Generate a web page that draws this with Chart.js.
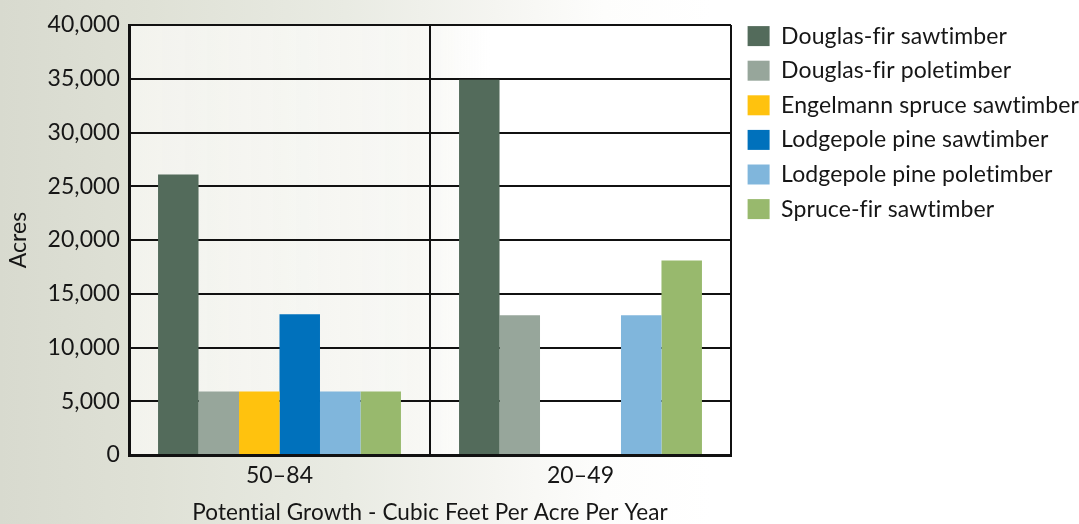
<!DOCTYPE html>
<html>
<head>
<meta charset="utf-8">
<script src="https://cdn.jsdelivr.net/npm/chart.js@4/dist/chart.umd.min.js"></script>
<style>
html, body { margin: 0; padding: 0; }
body {
    width: 1079px; height: 524px; overflow: hidden;
    background: linear-gradient(90deg, #d8dacf 0%, #dfe1d6 14%, #e9ebe3 32%, #f5f5f1 46%, #fdfdfc 56%, #ffffff 66%);
}
canvas { display: block; font-variant-ligatures: none; }
</style>
</head>
<body>
<canvas id="chart1" width="1079" height="524"></canvas>
<script>
const categories = ['50–84', '20–49'];

const dfSaw  = [26100, 34900];
const dfPole = [5900, 13000];
const esSaw  = [5900, 0];
const lpSaw  = [13100, 0];
const lpPole = [5900, 13000];
const sfSaw  = [5900, 18100];

const seriesNames = [
    'Douglas-fir sawtimber',
    'Douglas-fir poletimber',
    'Engelmann spruce sawtimber',
    'Lodgepole pine sawtimber',
    'Lodgepole pine poletimber',
    'Spruce-fir sawtimber'
];
const seriesColors = ['#536b5b', '#97a69b', '#ffc20e', '#0071bc', '#80b6dc', '#98b96d'];

const yTicks = [0, 5000, 10000, 15000, 20000, 25000, 30000, 35000, 40000];
const yTitle = 'Acres';
const xTitle = 'Potential Growth - Cubic Feet Per Acre Per Year';

Chart.defaults.font.family = 'Lato';
Chart.defaults.font.size = 23;
Chart.defaults.color = '#161616';

const ch1 = document.getElementById('chart1');

// legend width fixed and nudged to sit where the original has it
const layoutFix = {
    id: 'layoutFix',
    afterInit(chart) {
        const lg = chart.legend;
        const fit = lg.fit.bind(lg);
        lg.fit = function () { fit(); this.width = 348; };
    },
    afterLayout(chart) {
        const lg = chart.legend;
        lg.left += 5;
        lg.right += 5;
        lg.top = 13;
    },
    beforeDraw(chart) {
        const a = chart.chartArea;
        const ctx = chart.ctx;
        ctx.letterSpacing = '0.1px'; // keeps Lato from joining "ti" / "fi"
        const g = ctx.createLinearGradient(a.left, 0, a.right, 0);
        g.addColorStop(0, 'rgba(246,246,242,0.85)');
        g.addColorStop(0.48, 'rgba(248,248,245,0.9)');
        g.addColorStop(0.6, '#ffffff');
        g.addColorStop(1, '#ffffff');
        ctx.save();
        ctx.fillStyle = g;
        ctx.fillRect(a.left, a.top, a.right - a.left, a.bottom - a.top);
        ctx.restore();
    }
};

new Chart(ch1, {
    type: 'bar',
    data: {
        labels: categories,
        datasets: [dfSaw, dfPole, esSaw, lpSaw, lpPole, sfSaw].map((d, i) => ({
            label: seriesNames[i],
            data: d,
            backgroundColor: seriesColors[i],
            borderWidth: 0,
            categoryPercentage: 0.807,
            barPercentage: 1.0
        }))
    },
    options: {
        responsive: false,
        animation: false,
        layout: { padding: { top: 25, left: 0, right: 0, bottom: 0 } },
        plugins: {
            legend: {
                display: true,
                position: 'right',
                align: 'start',
                labels: {
                    boxWidth: 22,
                    boxHeight: 20,
                    padding: 11.6,
                    color: '#161616',
                    font: { size: 23 }
                }
            },
            tooltip: { enabled: false }
        },
        scales: {
            x: {
                offset: true,
                grid: { display: true, offset: true, color: '#111', lineWidth: 2, drawTicks: false },
                border: { display: true, color: '#111', width: 3 },
                ticks: { padding: 7 },
                title: { display: true, text: xTitle, font: { size: 22.5 }, padding: { top: 0, bottom: -2 } },
                afterFit: s => { s.height = 69; }
            },
            y: {
                min: 0,
                max: 40000,
                afterBuildTicks: s => { s.ticks = yTicks.map(v => ({ value: v })); },
                grid: { color: '#111', lineWidth: 2, drawTicks: false },
                border: { display: true, color: '#111', width: 3 },
                ticks: { padding: 9 },
                title: { display: true, text: yTitle, padding: { top: 5, bottom: 0 } },
                afterFit: s => { s.width = 129; }
            }
        }
    },
    plugins: [layoutFix]
});
</script>
</body>
</html>
